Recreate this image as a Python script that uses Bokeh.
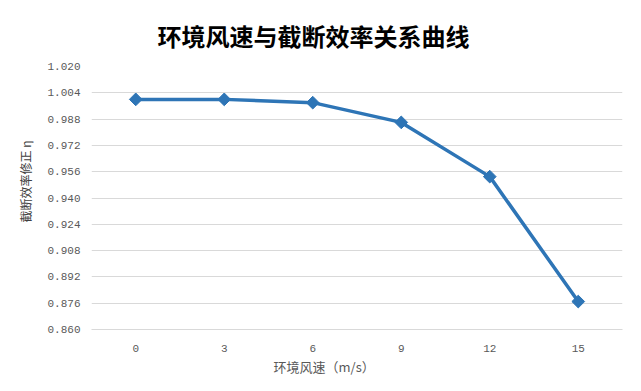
import math
from bokeh.plotting import figure
from bokeh.models import FactorRange, Range1d, FixedTicker, Title
from bokeh.embed import file_html
from bokeh.resources import INLINE

wind_speed = ["0", "3", "6", "9", "12", "15"]
efficiency = [1.000, 1.000, 0.998, 0.986, 0.953, 0.877]
y_ticks = [0.860, 0.876, 0.892, 0.908, 0.924, 0.940, 0.956, 0.972, 0.988, 1.004, 1.020]
y_tick_labels = ["0.860", "0.876", "0.892", "0.908", "0.924", "0.940", "0.956", "0.972", "0.988", "1.004", "1.020"]

title_text = "环境风速与截断效率关系曲线"
x_label = "环境风速（m/s）"
y_label = "截断效率修正 η"

p = figure(width=625, height=375, output_backend="svg", toolbar_location=None,
           x_range=FactorRange(*wind_speed, range_padding=0),
           y_range=Range1d(0.860, 1.020))
p.min_border_left = 91
p.min_border_right = 3
p.min_border_top = 66
p.min_border_bottom = 43
p.outline_line_color = None
p.background_fill_color = "white"
p.border_fill_color = "white"

p.title.text = title_text
p.title.align = "left"
p.title.offset = 66
p.title.text_font = "Noto Sans CJK SC"
p.title.text_font_size = "24px"
p.title.text_font_style = "bold"
p.title.text_color = "#000000"
p.title.standoff = 28

p.add_layout(Title(text=x_label, align="left", offset=182, standoff=0, text_font="Noto Sans CJK SC",
                   text_font_size="13px", text_font_style="normal", text_color="#595959"), "below")
p.add_layout(Title(text=y_label, align="left", offset=107, standoff=22, text_font="Noto Sans CJK SC",
                   text_font_size="12px", text_font_style="normal", text_color="#404040"), "left")

p.line(wind_speed, efficiency, line_color="#2E75B6", line_width=3.5)
p.scatter(wind_speed, efficiency, marker="square", angle=math.pi / 4, size=9,
          fill_color="#2E75B6", line_color="#2E75B6")

p.yaxis.ticker = FixedTicker(ticks=y_ticks)
p.yaxis.major_label_overrides = {t: l for t, l in zip(y_ticks, y_tick_labels)}
p.yaxis.axis_line_color = None
p.yaxis.major_tick_line_color = None
p.yaxis.minor_tick_line_color = None
p.yaxis.major_label_standoff = 5
p.yaxis.major_label_text_font = "Liberation Mono"
p.yaxis.major_label_text_font_size = "11px"
p.yaxis.major_label_text_color = "#595959"

p.xaxis.axis_line_color = "#d9d9d9"
p.xaxis.axis_line_width = 1
p.xaxis.major_tick_line_color = None
p.xaxis.minor_tick_line_color = None
p.xaxis.major_label_standoff = 9
p.xaxis.major_label_text_font = "Liberation Mono"
p.xaxis.major_label_text_font_size = "11px"
p.xaxis.major_label_text_color = "#595959"

p.xgrid.grid_line_color = None
p.ygrid.grid_line_color = "#d9d9d9"
p.ygrid.grid_line_width = 1

open("out.html", "w").write(file_html(p, INLINE))
